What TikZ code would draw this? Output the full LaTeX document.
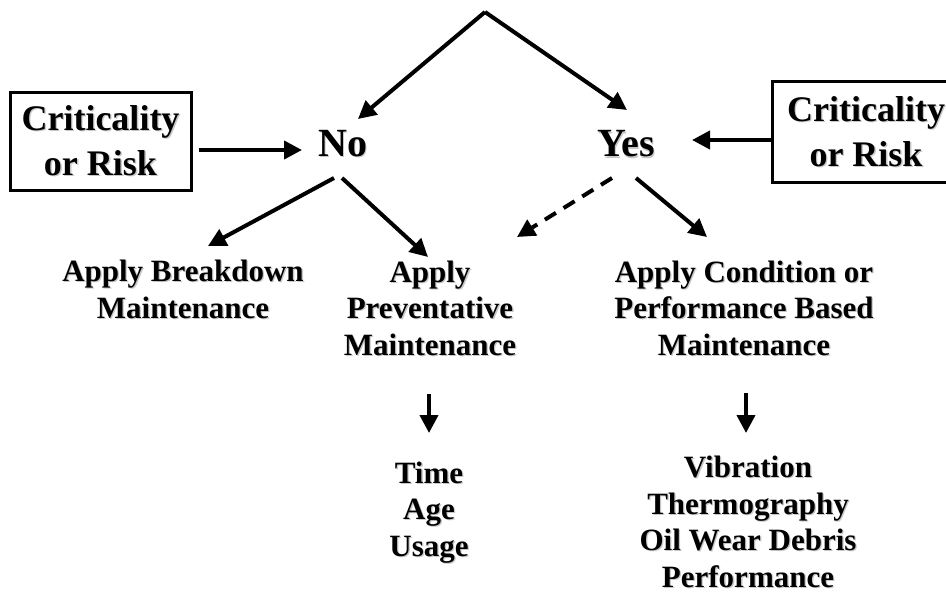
\documentclass[tikz,border=0pt]{standalone}
\usepackage{fontspec}
\setmainfont{Liberation Serif}
\usetikzlibrary{arrows.meta}
\newcommand\shd[1]{\makebox[0pt][l]{\color{black!22}\raisebox{-1.3pt}{\hspace{1.3pt}#1}}#1}
\begin{document}
\begin{tikzpicture}[x=1pt,y=-1pt,
  arr/.style={line width=4pt,-{Triangle[length=18pt,width=18pt]}},
  dsh/.style={arr,dash pattern=on 13pt off 9pt},
  big/.style={font=\fontsize{40}{46}\selectfont\bfseries,inner sep=0pt,anchor=base},
  mid/.style={font=\fontsize{36}{45}\selectfont\bfseries,inner sep=0pt,align=center},
  lbl/.style={font=\fontsize{31}{36.5}\selectfont\bfseries,inner sep=0pt,align=center,anchor=base},
  crit/.style={draw,line width=3pt,inner sep=0pt}]
\useasboundingbox (0,0) rectangle (946,594);
% boxes
\node[crit,minimum width=181pt,minimum height=97pt] (lbox) at (100.5,141.5) {};
\node[mid] at (lbox) {\shd{Criticality}\\\shd{or Risk}};
\node[crit,minimum width=190pt,minimum height=100pt] (rbox) at (867,132) {};
\node[mid] at (866,132) {\shd{Criticality}\\\shd{or Risk}};
% main labels
\node[big] (no) at (343,156) {\shd{No}};
\node[big] (yes) at (626,157) {\shd{Yes}};
\node[lbl] (brk) at (183,318) {\shd{Apply Breakdown}\\\shd{Maintenance}};
\node[lbl] (prev) at (430,355) {\shd{Apply}\\\shd{Preventative}\\\shd{Maintenance}};
\node[lbl] (cond) at (744,355) {\shd{Apply Condition or}\\\shd{Performance Based}\\\shd{Maintenance}};
\node[lbl] (tau) at (429,556) {\shd{Time}\\\shd{Age}\\\shd{Usage}};
\node[lbl] (vib) at (748,587) {\shd{Vibration}\\\shd{Thermography}\\\shd{Oil Wear Debris}\\\shd{Performance}};
% coordinates
\coordinate (apex) at (485,12);
\coordinate (noIn) at (358,119);
\coordinate (yesIn) at (627,110);
\coordinate (lboxOut) at (199,150);
\coordinate (noW) at (302,150);
\coordinate (rboxOut) at (771,140);
\coordinate (yesE) at (692,140);
\coordinate (noL) at (334,178);
\coordinate (noR) at (342,178);
\coordinate (brkIn) at (208,246);
\coordinate (prevIn) at (428,257);
\coordinate (yesL) at (612,178);
\coordinate (yesR) at (636,178);
\coordinate (prevIn2) at (517,237);
\coordinate (condIn) at (707,237);
\coordinate (prevOut) at (429,394);
\coordinate (tauIn) at (429,433);
\coordinate (condOut) at (746,393);
\coordinate (vibIn) at (746,433);
% connectors
\draw[arr] (apex) -- (noIn);
\draw[arr] (apex) -- (yesIn);
\draw[arr] (lboxOut) -- (noW);
\draw[arr] (rboxOut) -- (yesE);
\draw[arr] (noL) -- (brkIn);
\draw[arr] (noR) -- (prevIn);
\draw[dsh] (yesL) -- (prevIn2);
\draw[arr] (yesR) -- (condIn);
\draw[arr] (prevOut) -- (tauIn);
\draw[arr] (condOut) -- (vibIn);
\end{tikzpicture}
\end{document}
